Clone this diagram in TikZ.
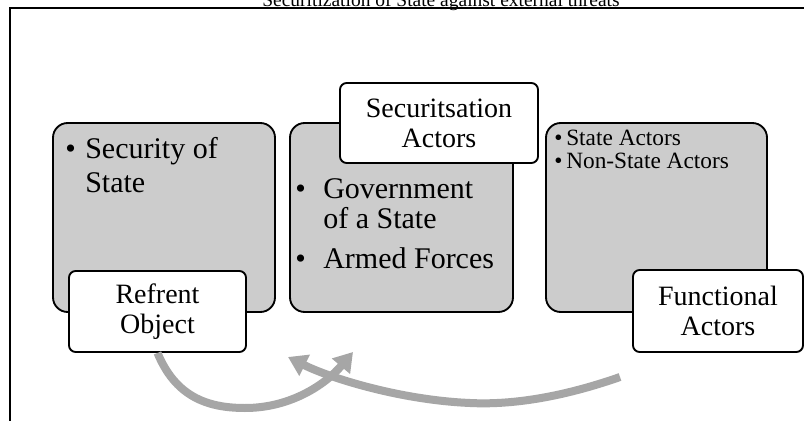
\documentclass[tikz,border=0pt]{standalone}
\usepackage{fontspec}
\setmainfont{Liberation Serif}
\usetikzlibrary{arrows.meta}
\definecolor{boxgray}{RGB}{204,204,204}
\definecolor{arrowgray}{RGB}{166,166,166}
\begin{document}
\begin{tikzpicture}[x=0.75pt,y=-0.75pt,
  frame/.style={line width=1.5pt},
  graybox/.style={draw, line width=1.4pt, fill=boxgray, rounded corners=11pt, minimum height=141.75pt, inner sep=0pt},
  whitebox/.style={draw, line width=1.4pt, fill=white, rounded corners=5pt, inner sep=0pt, align=center, font=\fontsize{21}{22.5}\selectfont},
  bigtxt/.style={font=\fontsize{22.5}{25.5}\selectfont, anchor=base west, inner sep=0pt},
  smalltxt/.style={font=\fontsize{17.5}{15}\selectfont, anchor=base west, inner sep=0pt},
  flow/.style={draw=arrowgray, line width=6pt, -{Triangle[length=14pt,width=17pt]}}
]
\useasboundingbox (0,0) rectangle (804,421);
\fill[white] (0,0) rectangle (804,421);
\node[font=\fontsize{14.6}{17}\selectfont, anchor=base, inner sep=0pt] (title) at (441,6.5) {Securitization of State against external threats};
\draw[frame] (10,421) -- (10,8) -- (804,8);

% gray boxes
\node[graybox, minimum width=166.5pt] (box1) at (164,217.5) {};
\node[graybox, minimum width=167.25pt] (box2) at (401.5,217.5) {};
\node[graybox, minimum width=165.75pt] (box3) at (656.5,217.5) {};

% box 1 text
\node[bigtxt] (b1bul) at (65,158) {\textbullet};
\node[bigtxt] (b1l1) at (85,158) {Security of};
\node[bigtxt] (b1l2) at (85,192) {State};

% box 2 text
\node[bigtxt] (b2bul1) at (295,198) {\textbullet};
\node[bigtxt] (b2l1) at (323,198) {Government};
\node[bigtxt] (b2l2) at (323,228) {of a State};
\node[bigtxt] (b2bul2) at (295,268) {\textbullet};
\node[bigtxt] (b2l3) at (323,268) {Armed Forces};

% box 3 text
\node[smalltxt] (b3bul1) at (554,145) {\textbullet};
\node[smalltxt] (b3l1) at (566,145) {State Actors};
\node[smalltxt] (b3bul2) at (554,168) {\textbullet};
\node[smalltxt] (b3l2) at (566,168) {Non-State Actors};

% arrow end points
\coordinate (a1end) at (353,352);
\coordinate (a2start) at (620,377);
\coordinate (a2end) at (288,357);

% white boxes
\node[whitebox, minimum width=132.75pt, minimum height=60.75pt] (ref) at (157.5,311.5) {Refrent\\Object};
\node[whitebox, minimum width=148.5pt, minimum height=60pt] (sec) at (439,123) {Securitsation\\Actors};
\node[whitebox, minimum width=127.5pt, minimum height=61.5pt] (fun) at (718,311) {Functional\\Actors};

\draw[flow] (ref.south) .. controls (175,395) and (205,408) .. (245,408) .. controls (290,408) and (325,385) .. (a1end);
\draw[flow] (a2start) .. controls (560,398) and (510,405) .. (470,403) .. controls (400,400) and (330,378) .. (a2end);
\end{tikzpicture}
\end{document}
